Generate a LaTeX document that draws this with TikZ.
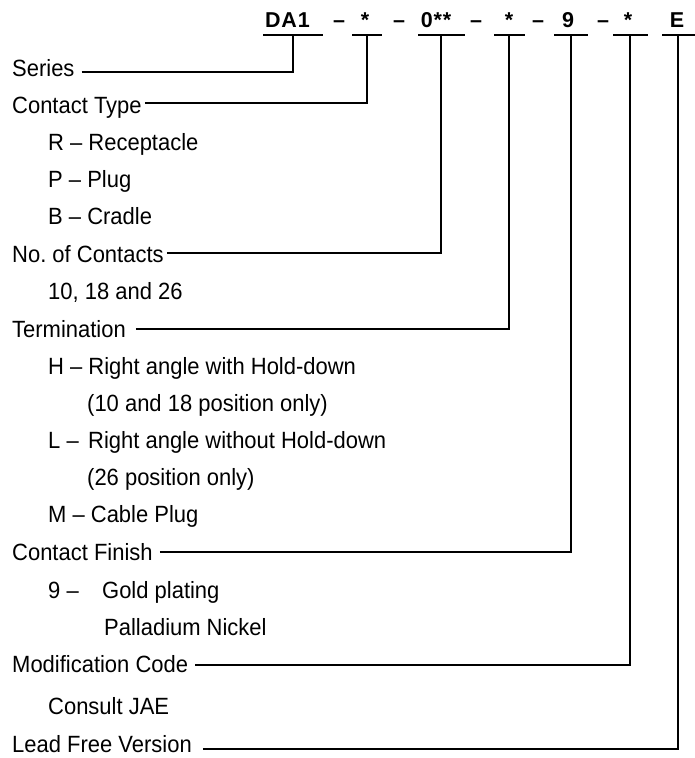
\documentclass[tikz,border=0pt]{standalone}
\usepackage{fontspec}
\setmainfont[FakeStretch=0.935]{Liberation Sans}
\newfontfamily\hdrfont[LetterSpace=4]{Liberation Sans}
\begin{document}
\begin{tikzpicture}[x=1pt,y=-1pt,
  lbl/.style={anchor=base west, inner sep=0pt, font=\fontsize{23.5}{28}\selectfont},
  hdr/.style={anchor=base, inner sep=0pt, font=\hdrfont\bfseries\fontsize{21.5}{26}\selectfont},
  uline/.style={inner sep=0pt, minimum height=2pt, fill=black, draw=none},
  conn/.style={line width=1.1pt}]
\useasboundingbox (0,0) rectangle (694,758);
% header
\node[hdr] (t1) at (287.5,27) {DA1};
\node[hdr] (d1) at (339,27) {–};
\node[hdr] (t2) at (365,27) {*};
\node[hdr] (d2) at (399,27) {–};
\node[hdr] (t3) at (436,27) {0**};
\node[hdr] (d3) at (476,27) {–};
\node[hdr] (t4) at (509,27) {*};
\node[hdr] (d4) at (538,27) {–};
\node[hdr] (t5) at (568,27) {9};
\node[hdr] (d5) at (603,27) {–};
\node[hdr] (t6) at (628,27) {*};
\node[hdr] (t7) at (677,27) {E};
% underlines
\node[uline, minimum width=60pt] (u1) at (293,35) {};
\node[uline, minimum width=30pt] (u2) at (367,35) {};
\node[uline, minimum width=47pt] (u3) at (441,35) {};
\node[uline, minimum width=31pt] (u4) at (509,35) {};
\node[uline, minimum width=34pt] (u5) at (571,35) {};
\node[uline, minimum width=35pt] (u6) at (630,35) {};
\node[uline, minimum width=33pt] (u7) at (678,35) {};
% labels
\node[lbl] (s1) at (12,76) {Series};
\node[lbl] (s2) at (12,113) {Contact Type};
\node[lbl] (r1) at (48,150) {R – Receptacle};
\node[lbl] (r2) at (48,187) {P – Plug};
\node[lbl] (r3) at (48,224) {B – Cradle};
\node[lbl] (s3) at (12,262) {No.\ of Contacts};
\node[lbl] (r4) at (48,299) {10, 18 and 26};
\node[lbl] (s4) at (12,337) {Termination};
\node[lbl] (r5) at (48,374) {H – Right angle with Hold-down};
\node[lbl] (r6) at (87,411) {(10 and 18 position only)};
\node[lbl] (r7) at (48,448) {\makebox[40pt][l]{L –}Right angle without Hold-down};
\node[lbl] (r8) at (87,485) {(26 position only)};
\node[lbl] (r9) at (48,522) {M – Cable Plug};
\node[lbl] (s5) at (12,560) {Contact Finish};
\node[lbl] (r10) at (48,598) {\makebox[54pt][l]{9 –}Gold plating};
\node[lbl] (r11) at (104,635) {Palladium Nickel};
\node[lbl] (s6) at (12,672) {Modification Code};
\node[lbl] (r12) at (48,714) {Consult JAE};
\node[lbl] (s7) at (12,752) {Lead Free Version};
% connectors
\draw[conn] ([shift={(7,-4)}]s1.base east) -| (u1.south);
\draw[conn] ([shift={(3,-10)}]s2.base east) -| (u2.south);
\draw[conn] ([shift={(3,-9)}]s3.base east) -| (u3.south);
\draw[conn] ([shift={(10,-8)}]s4.base east) -| (u4.south);
\draw[conn] ([shift={(7,-8)}]s5.base east) -| (u5.south);
\draw[conn] ([shift={(7,-7)}]s6.base east) -| (u6.south);
\draw[conn] ([shift={(11,-3)}]s7.base east) -| (u7.south);
\end{tikzpicture}
\end{document}
